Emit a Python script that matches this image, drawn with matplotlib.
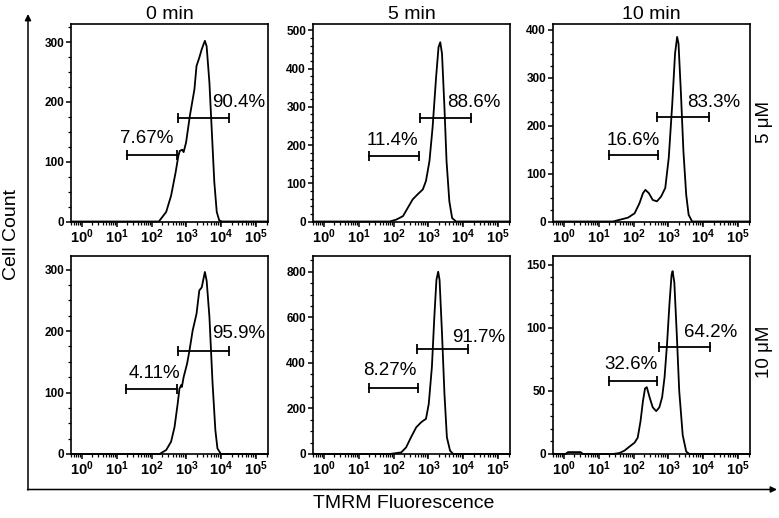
import matplotlib
matplotlib.use("Agg")
import matplotlib.pyplot as plt
from matplotlib.ticker import MultipleLocator, AutoMinorLocator, LogLocator, NullFormatter, FixedLocator

plt.rcParams["font.family"] = ["Liberation Sans", "DejaVu Sans"]
plt.rcParams["mathtext.fontset"] = "custom"
plt.rcParams["mathtext.rm"] = "Liberation Sans:bold"
plt.rcParams["mathtext.it"] = "Liberation Sans:bold"
plt.rcParams["mathtext.bf"] = "Liberation Sans:bold"

W, H = 779, 518
XMIN, XMAX = -0.31, 5.34          # log10 fluorescence shown

times = ["0 min", "5 min", "10 min"]
doses = ["5 μM", "10 μM"]

# histograms: log10(TMRM) positions and cell counts
p1_lx = [-0.31, 2.21, 2.42, 2.56, 2.69, 2.77, 2.81, 2.88, 2.92, 2.99, 3.10, 3.23, 3.29,
         3.37, 3.44, 3.49, 3.53, 3.58, 3.66, 3.73, 3.80, 3.87, 3.94, 4.02, 5.34]
p1_ct = [0, 0, 16, 43, 82, 110, 118, 120, 116, 132, 177, 221, 260,
         274, 288, 296, 302, 293, 232, 149, 66, 16, 2, 0, 0]

p2_lx = [-0.31, 1.89, 2.08, 2.27, 2.41, 2.55, 2.69, 2.84, 2.93, 3.03, 3.12, 3.22, 3.29,
         3.34, 3.39, 3.46, 3.52, 3.60, 3.68, 3.79, 5.34]
p2_ct = [0, 0, 5, 14, 36, 58, 71, 84, 106, 158, 246, 377, 456,
         469, 439, 298, 158, 53, 9, 0, 0]

p3_lx = [-0.31, 1.41, 1.60, 1.84, 2.03, 2.17, 2.27, 2.34, 2.44, 2.55, 2.67, 2.79, 2.91,
         3.01, 3.11, 3.19, 3.25, 3.29, 3.36, 3.43, 3.51, 3.58, 3.68, 5.34]
p3_ct = [0, 0, 3.5, 8, 17, 38, 59, 66, 59, 45, 42, 52, 70,
         133, 245, 350, 385, 371, 266, 147, 56, 14, 0, 0]

p4_lx = [-0.31, 2.23, 2.42, 2.56, 2.66, 2.75, 2.80, 2.85, 2.87, 2.92, 3.02, 3.09, 3.18,
         3.29, 3.37, 3.44, 3.49, 3.53, 3.58, 3.66, 3.75, 3.83, 3.89, 3.99, 5.34]
p4_ct = [0, 0, 6.5, 20, 44, 82, 106, 112, 109, 125, 147, 169, 201,
         228, 266, 271, 285, 296, 282, 223, 115, 39, 9, 0, 0]

p5_lx = [-0.31, 1.89, 2.22, 2.36, 2.50, 2.65, 2.79, 2.86, 2.93, 3.01, 3.10, 3.17, 3.23,
         3.28, 3.32, 3.39, 3.46, 3.53, 3.62, 3.71, 5.34]
p5_ct = [0, 0, 7, 29, 73, 117, 139, 147, 154, 220, 382, 602, 764,
         800, 764, 529, 264, 73, 15, 0, 0]

p6_lx = [-0.31, 0.05, 0.12, 0.48, 0.55, 1.41, 1.60, 1.74, 1.89, 2.03, 2.12, 2.20, 2.27,
         2.33, 2.38, 2.46, 2.55, 2.65, 2.74, 2.82, 2.89, 2.96, 3.03, 3.09, 3.12, 3.17,
         3.24, 3.31, 3.41, 3.51, 3.60, 5.34]
p6_ct = [0, 0, 1.5, 1.5, 0, 0, 0.8, 2.7, 6, 9, 13, 26, 42,
         52, 53, 45, 37, 34, 37, 45, 61, 87, 119, 142, 145, 136,
         95, 50, 15, 2, 0, 0]

# gates: (log10 start, log10 end, count level)
p1_gates = [(1.31, 2.73, 112), (2.77, 4.23, 173)]
p2_gates = [(1.31, 2.72, 171), (2.77, 4.23, 270)]
p3_gates = [(1.29, 2.69, 138), (2.68, 4.15, 219)]
p4_gates = [(1.28, 2.73, 106), (2.75, 4.23, 168)]
p5_gates = [(1.29, 2.70, 291), (2.67, 4.14, 460)]
p6_gates = [(1.29, 2.68, 57.5), (2.72, 4.20, 85)]

p1_pct = ["7.67%", "90.4%"]
p2_pct = ["11.4%", "88.6%"]
p3_pct = ["16.6%", "83.3%"]
p4_pct = ["4.11%", "95.9%"]
p5_pct = ["8.27%", "91.7%"]
p6_pct = ["32.6%", "64.2%"]

# label anchors (log10 x, count)
p1_pos = [(1.85, 139), (4.49, 199)]
p2_pos = [(1.98, 213), (4.29, 311)]
p3_pos = [(1.98, 169), (4.29, 248)]
p4_pos = [(2.09, 131), (4.49, 196)]
p5_pos = [(1.89, 367), (4.44, 511)]
p6_pos = [(1.93, 71), (4.22, 96)]

ymaxs = [331, 518, 413, 322, 869, 157]
ymajor = [100, 100, 100, 100, 200, 50]
yminor_n = [4, 5, 4, 4, 4, 5]

panels = [
    (p1_lx, p1_ct, p1_gates, p1_pct, p1_pos),
    (p2_lx, p2_ct, p2_gates, p2_pct, p2_pos),
    (p3_lx, p3_ct, p3_gates, p3_pct, p3_pos),
    (p4_lx, p4_ct, p4_gates, p4_pct, p4_pos),
    (p5_lx, p5_ct, p5_gates, p5_pct, p5_pos),
    (p6_lx, p6_ct, p6_gates, p6_pct, p6_pos),
]

col_left = [71, 313, 553]
row_top = [23.5, 256]
pw, ph = 197, 198

fig = plt.figure(figsize=(W / 100, H / 100), dpi=100)

for i, (lx, ct, gates, pcts, pos) in enumerate(panels):
    r, c = divmod(i, 3)
    ax = fig.add_axes([col_left[c] / W, 1 - (row_top[r] + ph) / H, pw / W, ph / H])
    ax.set_xscale("log")
    ax.set_xlim(10 ** XMIN, 10 ** XMAX)
    ax.set_ylim(0, ymaxs[i])
    ax.plot([10 ** v for v in lx], ct, color="black", lw=1.3, clip_on=False)
    for (g0, g1, gy), txt, (tx, ty) in zip(gates, pcts, pos):
        gx = [10 ** g0, 10 ** g1]
        ax.plot(gx, [gy, gy], color="black", lw=1.3)
        ax.plot(gx, [gy, gy], ls="none", marker="|", ms=7, mew=1.3, color="black")
        ax.text(10 ** tx, ty, txt, ha="center", va="center", fontsize=13.5,
                clip_on=False)
    ax.xaxis.set_major_locator(FixedLocator([10 ** k for k in range(6)]))
    ax.xaxis.set_minor_locator(LogLocator(base=10, subs=range(2, 10), numticks=20))
    ax.xaxis.set_minor_formatter(NullFormatter())
    ax.set_xticklabels([r"$10^{%d}$" % k for k in range(6)])
    ax.yaxis.set_major_locator(MultipleLocator(ymajor[i]))
    ax.yaxis.set_minor_locator(AutoMinorLocator(yminor_n[i]))
    ax.tick_params(which="major", length=3.5, width=1.1, labelsize=8.5, pad=1.5)
    ax.tick_params(which="minor", length=2, width=0.9)
    ax.tick_params(axis="x", labelsize=10.5, pad=0.5)
    for lab in ax.get_yticklabels():
        lab.set_fontweight("bold")
    for s in ax.spines.values():
        s.set_linewidth(1.2)
    if r == 0:
        ax.set_title(times[c], fontsize=14, pad=3)

# overlay for the big axis arrows and shared labels
ov = fig.add_axes([0, 0, 1, 1])
ov.set_xlim(0, W)
ov.set_ylim(H, 0)
ov.set_axis_off()
ov.patch.set_alpha(0)
ov.annotate("", xy=(28, 14), xytext=(28, 490),
            arrowprops=dict(arrowstyle="-|>", color="black", lw=1.1,
                            mutation_scale=9, shrinkA=0, shrinkB=0))
ov.annotate("", xy=(777, 489.5), xytext=(27.5, 489.5),
            arrowprops=dict(arrowstyle="-|>", color="black", lw=1.1,
                            mutation_scale=9, shrinkA=0, shrinkB=0))
ov.text(12, 235, "Cell Count", rotation=90, ha="center", va="center", fontsize=14)
ov.text(404, 503, "TMRM Fluorescence", ha="center", va="center", fontsize=14)
ov.text(765, 122, doses[0], rotation=90, ha="center", va="center", fontsize=13.5)
ov.text(765, 352, doses[1], rotation=90, ha="center", va="center", fontsize=13.5)

fig.savefig("out.png", dpi=100)
